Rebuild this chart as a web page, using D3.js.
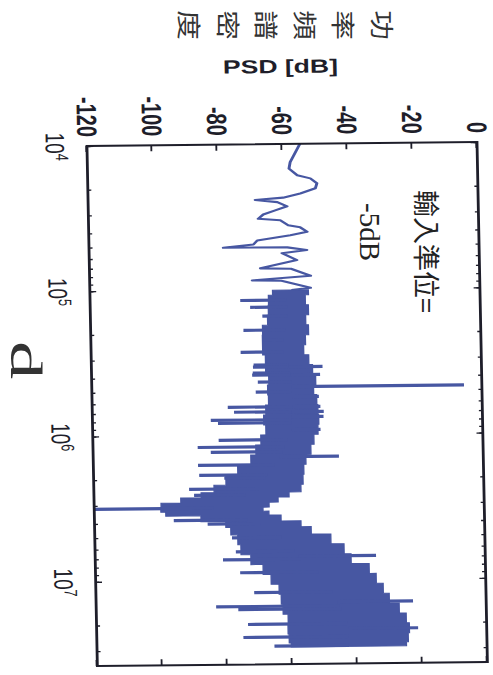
<!DOCTYPE html>
<html>
<head>
<meta charset="utf-8">
<script src="https://cdn.jsdelivr.net/npm/d3@7/dist/d3.min.js"></script>
<style>
  body { margin: 0; background: #fff; }
</style>
</head>
<body>
<div id="chart"></div>
<script>
// low-frequency part of the spectrum: a single wavy line (Hz, dB)
var lowF = [10000, 13340, 14790, 16440, 17320, 18740, 20290, 21950, 23400, 24160, 25090, 26870,
    28610, 30470, 32600, 33500, 36250, 37580, 40330, 42480, 45960, 48950, 51280, 51500,
    53820, 56400, 63050, 71500, 72300, 81100, 86500, 87300, 98100, 101300];
var lowDb = [-54.5, -57.6, -58.0, -55.5, -51.5, -49.5, -50.0, -54.7, -60.0, -68.6, -61.8, -58.8,
    -62.5, -66.2, -67.8, -61.0, -58.6, -54.9, -52.8, -58.0, -68.2, -69.4, -78.7, -59.0,
    -53.0, -60.7, -56.1, -67.4, -58.0, -52.0, -70.0, -61.0, -52.1, -58.0];

// dense noisy part: lower / upper edge of the solid band
var bandF = [101300, 118600, 138900, 162700, 190500, 223200, 261400,
    306100, 358500, 420000, 491800, 576000, 674700, 790100, 925400, 1084000, 1269000, 1487000,
    1741000, 2040000, 2389000, 2585000, 2798000, 3028000, 3277000, 3436000, 3716000, 4152000,
    4495000, 5264000, 6165000, 7222000, 8458000, 9904000, 11600000, 13590000, 15910000,
    18640000, 21830000, 25560000, 29020000];
var bandLo = [-63.8, -65.1, -65.2, -65.5, -67.1, -67.2, -67.2,
    -66.4, -66.4, -65.5, -65.9, -65.7, -66.6, -67.3, -66.7, -68.3, -69.9, -71.5,
    -75.6, -79.3, -83.0, -87.0, -93.3, -99.4, -99.5, -98.0, -87.2, -79.6,
    -78.1, -76.0, -75.1, -72.1, -68.4, -66.0, -63.6, -63.0, -62.5,
    -61.0, -61.1, -60.8, -60.2];
var bandHi = [-52.8, -53.8, -52.9, -53.8, -53.0, -54.0, -54.6,
    -53.1, -52.0, -51.1, -51.8, -50.9, -50.6, -50.4, -50.7, -52.0, -53.0, -54.6,
    -55.3, -55.6, -56.3, -60.0, -63.4, -66.2, -68.1, -66.3, -62.6, -56.5,
    -53.4, -47.4, -43.4, -41.3, -35.8, -33.7, -31.6, -29.8, -26.8,
    -24.7, -23.8, -24.2, -24.8];

// single-bin spikes sticking out of the band (Hz, dB)
var spikeF = [118600, 132400, 152700, 190500, 223200, 269800, 331300, 341900, 375900, 388000,
    433500, 507600, 643200, 696300, 790100, 828500, 1084000, 1210000, 1310000, 1609000,
    1884000, 1974000, 2350000, 2585000, 3173000, 3837000, 4088000, 5097000, 6363000, 7222000,
    8870000, 12170000, 15180000, 15910000, 20170000, 24770000, 28570000,
    342000, 388000, 469000, 549000, 643200, 696300, 753500, 925400, 1418000,
    6889000, 14250000, 21830000];
var spikeDb = [-73.8, -70.8, -67.1, -73.0, -66.9, -74.0, -70.1, -70.3, -70.4, -70.6,
    -68.9, -69.6, -78.3, -76.4, -83.6, -81.4, -81.3, -87.8, -83.8, -87.8,
    -87.5, -79.8, -90.7, -89.2, -125, -95.6, -85.2, -77.8, -76.7, -80.7,
    -75.5, -71.3, -83.1, -76.3, -73.4, -74.9, -65.4,
    -48.9, -49.7, -5.5, -50.2, -49.8, -48.8, -48.9, -49.9, -44.4,
    -33.6, -22.5, -21.1];

var dbTicks = [-120, -100, -80, -60, -40, -20, 0];
var freqTicks = [1e4, 1e5, 1e6, 1e7];
var titleChars = ["功", "率", "頻", "譜", "密", "度"];

var W = 520, H = 278.6;
var blue = "#4757a2";
var ink = "#1e1e2a";

var svg = d3.select("#chart").append("svg")
    .attr("width", 493)
    .attr("height", 675);

// the whole plot is turned a quarter turn clockwise (slightly skewed, as scanned)
var g = svg.append("g")
    .attr("transform", "matrix(0.02,1,-1.4,0.0144,477,142)");

var x = d3.scaleLog().domain([1e4, 3.8e7]).range([0, W]);
var y = d3.scaleLinear().domain([-120, 0]).range([H, 0]);

g.append("defs").append("clipPath").attr("id", "clip")
    .append("rect").attr("width", W).attr("height", H);

var plot = g.append("g").attr("clip-path", "url(#clip)");

// band
var band = bandF.map(function (f, i) { return { f: f, lo: bandLo[i], hi: bandHi[i] }; });
plot.append("path")
    .datum(band)
    .attr("fill", blue)
    .attr("stroke", blue)
    .attr("stroke-width", 1)
    .attr("d", d3.area()
        .curve(d3.curveStep)
        .x(function (d) { return x(d.f); })
        .y0(function (d) { return y(d.lo); })
        .y1(function (d) { return y(d.hi); }));

// wavy low part
var low = lowF.map(function (f, i) { return { f: f, v: lowDb[i] }; });
plot.append("path")
    .datum(low)
    .attr("fill", "none")
    .attr("stroke", blue)
    .attr("stroke-width", 2.1)
    .attr("stroke-linejoin", "round")
    .attr("d", d3.line()
        .x(function (d) { return x(d.f); })
        .y(function (d) { return y(d.v); }));

// middle of the band at a frequency, for the foot of each spike
function bandMid(f) {
    var i = d3.bisectRight(bandF, f) - 1;
    i = Math.max(0, Math.min(bandF.length - 2, i));
    var t = (Math.log(f) - Math.log(bandF[i])) / (Math.log(bandF[i + 1]) - Math.log(bandF[i]));
    var lo = bandLo[i] + t * (bandLo[i + 1] - bandLo[i]);
    var hi = bandHi[i] + t * (bandHi[i + 1] - bandHi[i]);
    return (lo + hi) / 2;
}

var spikes = spikeF.map(function (f, i) { return { f: f, v: spikeDb[i] }; });
plot.selectAll(".spike")
    .data(spikes)
    .enter()
    .append("line")
    .attr("class", "spike")
    .attr("x1", function (d) { return x(d.f); })
    .attr("x2", function (d) { return x(d.f); })
    .attr("y1", function (d) { return y(bandMid(d.f)); })
    .attr("y2", function (d) { return y(d.v); })
    .attr("stroke", blue)
    .attr("stroke-width", 3.2);

// axes: ticks point inwards on all four sides
function noLabels() { return ""; }

var yAxis = g.append("g")
    .call(d3.axisLeft(y).tickValues(dbTicks).tickSizeInner(-6).tickSizeOuter(0)
        .tickPadding(9).tickFormat(function (d) { return String(d); }));
yAxis.attr("font-family", "'Liberation Sans', Arial, sans-serif")
    .attr("font-size", 20)
    .attr("font-weight", "bold");

g.append("g")
    .attr("transform", "translate(" + W + ",0)")
    .call(d3.axisRight(y).tickValues(dbTicks).tickSizeInner(-6).tickSizeOuter(0).tickFormat(noLabels));

var xAxis = g.append("g")
    .attr("transform", "translate(0," + H + ")")
    .call(d3.axisBottom(x).tickValues(freqTicks).tickSizeInner(-4.5).tickSizeOuter(0)
        .tickPadding(16).tickFormat(noLabels));
xAxis.attr("font-family", "'Liberation Sans', Arial, sans-serif").attr("font-size", 19);
xAxis.selectAll(".tick text").each(function (d) {
    var t = d3.select(this);
    t.append("tspan").text("10");
    t.append("tspan").attr("dy", "-0.55em").attr("font-size", "0.68em")
        .text(Math.round(Math.log10(d)));
});

g.append("g")
    .attr("transform", "translate(0," + H + ")")
    .call(d3.axisBottom(x).tickValues(x.ticks()).tickSizeInner(-2.5).tickSizeOuter(0).tickFormat(noLabels));
g.append("g")
    .call(d3.axisTop(x).tickValues(x.ticks()).tickSizeInner(-2.5).tickSizeOuter(0).tickFormat(noLabels));
g.append("g")
    .call(d3.axisTop(x).tickValues(freqTicks).tickSizeInner(-4.5).tickSizeOuter(0).tickFormat(noLabels));

g.selectAll(".domain").remove();
g.selectAll(".tick line").attr("stroke", ink).attr("stroke-width", 1.3);
g.selectAll(".tick text").attr("fill", ink);

g.append("rect")
    .attr("width", W)
    .attr("height", H)
    .attr("fill", "none")
    .attr("stroke", ink)
    .attr("stroke-width", 2);

// axis title
g.append("text")
    .attr("transform", "translate(-71," + H / 2 + ") rotate(-90)")
    .attr("text-anchor", "middle")
    .attr("font-family", "'Liberation Sans', Arial, sans-serif")
    .attr("font-size", 19)
    .attr("font-weight", "bold")
    .attr("fill", ink)
    .text("PSD [dB]");

// Chinese caption above, one turned glyph at a time
svg.selectAll(".tchar")
    .data(titleChars)
    .enter()
    .append("text")
    .attr("class", "tchar")
    .attr("transform", function (d, i) {
        return "translate(" + (383 - i * 38.5) + ",25) rotate(90) scale(1.1,0.9)";
    })
    .attr("text-anchor", "middle")
    .attr("dominant-baseline", "central")
    .attr("font-family", "'Noto Sans CJK TC', sans-serif")
    .attr("font-size", 27)
    .attr("fill", "#333")
    .text(function (d) { return d; });

// annotation inside the plot
svg.append("text")
    .attr("transform", "translate(427,190) rotate(90)")
    .attr("dominant-baseline", "central")
    .attr("font-family", "'Noto Sans CJK TC', sans-serif")
    .attr("font-size", 27)
    .attr("fill", "#222")
    .text("輸入準位=");

svg.append("text")
    .attr("transform", "translate(370,203) rotate(90)")
    .attr("dominant-baseline", "central")
    .attr("font-family", "'Liberation Serif', 'Times New Roman', serif")
    .attr("font-size", 29)
    .attr("fill", "#222")
    .text("-5dB");

// sub-figure letter
svg.append("text")
    .attr("transform", "translate(11,341) rotate(90) scale(1.7,1)")
    .attr("font-family", "'Liberation Serif', 'Times New Roman', serif")
    .attr("font-size", 45)
    .attr("fill", "#333")
    .text("d");
</script>
</body>
</html>
